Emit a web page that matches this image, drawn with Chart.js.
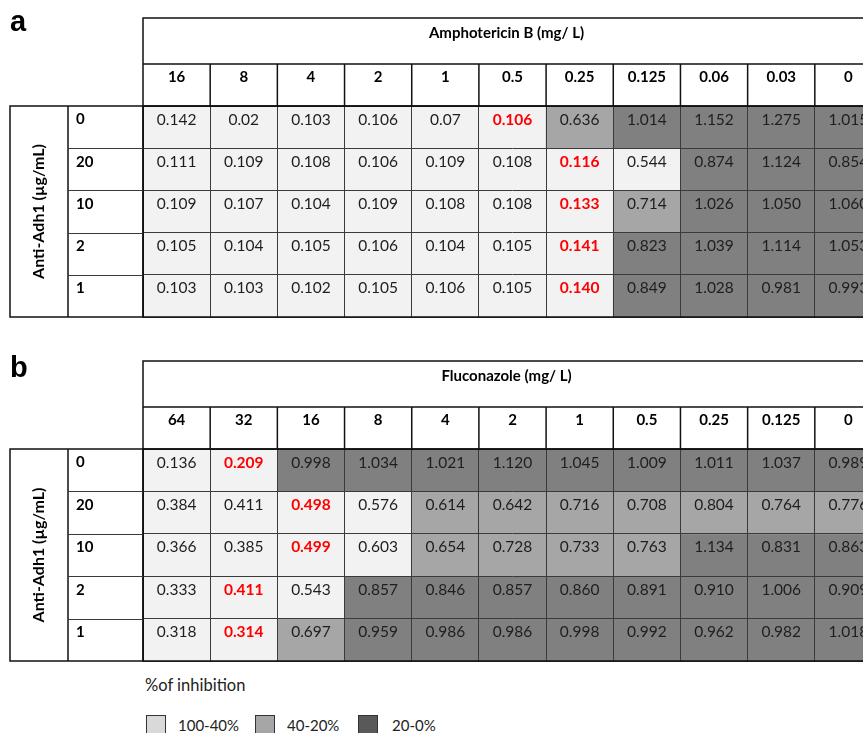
<!DOCTYPE html>
<html>
<head>
<meta charset="utf-8">
<title>Checkerboard: Anti-Adh1 with Amphotericin B and Fluconazole</title>
<script src="https://cdn.jsdelivr.net/npm/chart.js@4.4.1/dist/chart.umd.min.js"></script>
<style>
  html, body { margin: 0; padding: 0; background: #fff; width: 863px; height: 733px; overflow: hidden; }
  canvas { position: absolute; left: 0; }
  #panelA { top: 0; }
  #panelB { top: 335px; }
  #legend { position: absolute; left: 0; top: 0; font-family: Lato, "Open Sans", sans-serif; color: #222; }
  #legend .caption { position: absolute; left: 145px; top: 675px; font-size: 16.5px; white-space: nowrap; }
  #legend .key { position: absolute; top: 715px; width: 20px; height: 20px; border: 1px solid #333; box-sizing: border-box; }
  #legend .txt { position: absolute; top: 715px; font-size: 15px; line-height: 20px; white-space: nowrap; }
</style>
</head>
<body>
<canvas id="panelA" width="882" height="335"></canvas>
<canvas id="panelB" width="882" height="335"></canvas>
<div id="legend"></div>
<script>
// Anti-Adh1 concentrations (µg/mL), one per table row
const rowLabels = ['0', '20', '10', '2', '1'];

// Amphotericin B concentrations (mg/L)
const amphoLabels = ['16', '8', '4', '2', '1', '0.5', '0.25', '0.125', '0.06', '0.03', '0'];
// OD readings per row
const amphoOD = [
  ['0.142', '0.02',  '0.103', '0.106', '0.07',  '0.106', '0.636', '1.014', '1.152', '1.275', '1.015'],
  ['0.111', '0.109', '0.108', '0.106', '0.109', '0.108', '0.116', '0.544', '0.874', '1.124', '0.854'],
  ['0.109', '0.107', '0.104', '0.109', '0.108', '0.108', '0.133', '0.714', '1.026', '1.050', '1.060'],
  ['0.105', '0.104', '0.105', '0.106', '0.104', '0.105', '0.141', '0.823', '1.039', '1.114', '1.053'],
  ['0.103', '0.103', '0.102', '0.105', '0.106', '0.105', '0.140', '0.849', '1.028', '0.981', '0.993']
];
// inhibition band per cell: 0 = 100-40%, 1 = 40-20%, 2 = 20-0%
const amphoBand = [
  [0, 0, 0, 0, 0, 0, 1, 2, 2, 2, 2],
  [0, 0, 0, 0, 0, 0, 0, 0, 2, 2, 2],
  [0, 0, 0, 0, 0, 0, 0, 1, 2, 2, 2],
  [0, 0, 0, 0, 0, 0, 0, 2, 2, 2, 2],
  [0, 0, 0, 0, 0, 0, 0, 2, 2, 2, 2]
];
// column index of the MIC in each row
const amphoMIC = [5, 6, 6, 6, 6];

// Fluconazole concentrations (mg/L)
const flucoLabels = ['64', '32', '16', '8', '4', '2', '1', '0.5', '0.25', '0.125', '0'];
const flucoOD = [
  ['0.136', '0.209', '0.998', '1.034', '1.021', '1.120', '1.045', '1.009', '1.011', '1.037', '0.989'],
  ['0.384', '0.411', '0.498', '0.576', '0.614', '0.642', '0.716', '0.708', '0.804', '0.764', '0.776'],
  ['0.366', '0.385', '0.499', '0.603', '0.654', '0.728', '0.733', '0.763', '1.134', '0.831', '0.863'],
  ['0.333', '0.411', '0.543', '0.857', '0.846', '0.857', '0.860', '0.891', '0.910', '1.006', '0.909'],
  ['0.318', '0.314', '0.697', '0.959', '0.986', '0.986', '0.998', '0.992', '0.962', '0.982', '1.018']
];
const flucoBand = [
  [0, 0, 2, 2, 2, 2, 2, 2, 2, 2, 2],
  [0, 0, 0, 0, 1, 1, 1, 1, 1, 1, 1],
  [0, 0, 0, 0, 1, 1, 1, 1, 2, 2, 2],
  [0, 0, 0, 2, 2, 2, 2, 2, 2, 2, 2],
  [0, 0, 1, 2, 2, 2, 2, 2, 2, 2, 2]
];
const flucoMIC = [1, 2, 2, 1, 1];

// legend
const bandNames = ['100-40%', '40-20%', '20-0%'];
const legendCaption = '%of inhibition';

// styling
const cellFill = ['#f2f2f2', '#a6a6a6', '#808080'];
const keyFill = ['#d9d9d9', '#a6a6a6', '#595959'];
const FONT = 'Lato, "Open Sans", sans-serif';
const LINE = '#3a3a3a';
const EDGE = '#111';

function buildPanel(canvasId, p) {
  const datasets = p.od.map((row, r) => ({
    label: rowLabels[r],
    data: row.map(() => [r, r + 1]),
    backgroundColor: ctx => cellFill[p.band[r][ctx.dataIndex]],
    grouped: false,
    barPercentage: 1,
    categoryPercentage: 1,
    borderWidth: 0,
    borderSkipped: false
  }));

  const tablePlugin = {
    id: 'tableFrame',
    afterDraw(chart) {
      const { ctx, chartArea: a, scales: { x, y } } = chart;
      const n = p.cols.length;
      const colW = x.getPixelForValue(1) - x.getPixelForValue(0);
      const edgeX = i => x.getPixelForValue(i) - colW / 2;
      const hTop = a.top - p.titleH - p.colH;
      const hMid = a.top - p.colH;

      ctx.save();

      // cell readings
      ctx.textAlign = 'center';
      ctx.textBaseline = 'middle';
      p.od.forEach((row, r) => {
        const meta = chart.getDatasetMeta(r);
        row.forEach((txt, j) => {
          const el = meta.data[j];
          const top = Math.min(el.y, el.base);
          const mic = p.mic[r] === j;
          ctx.font = (mic ? 'bold ' : '') + '15.5px ' + FONT;
          ctx.fillStyle = mic ? '#ff0000' : '#1e1e1e';
          ctx.fillText(txt, el.x, top + 13.5);
        });
      });

      // header block: drug title row + concentration row
      ctx.strokeStyle = EDGE;
      ctx.lineWidth = 1.5;
      ctx.strokeRect(a.left, hTop, a.right - a.left, p.titleH + p.colH);
      ctx.beginPath();
      ctx.moveTo(a.left, hMid); ctx.lineTo(a.right, hMid);
      for (let i = 1; i <= n; i++) {
        ctx.moveTo(edgeX(i), hMid); ctx.lineTo(edgeX(i), a.top);
      }
      ctx.stroke();

      ctx.fillStyle = '#000';
      ctx.font = 'bold 15px ' + FONT;
      ctx.fillText(p.title, (a.left + a.right) / 2 - 6, hTop + 15.5);
      p.cols.forEach((c, i) => {
        ctx.fillText(c, x.getPixelForValue(i), hMid + 13.5);
      });

      // outer frame of the data block
      ctx.strokeRect(a.left, a.top, a.right - a.left, a.bottom - a.top);

      // left block: axis title column + row label column
      const labX = a.left - 75;
      const titX = a.left - 133;
      ctx.strokeRect(titX, a.top, a.left - titX, a.bottom - a.top);
      ctx.beginPath();
      ctx.moveTo(labX, a.top); ctx.lineTo(labX, a.bottom);
      ctx.stroke();
      ctx.lineWidth = 1;
      ctx.strokeStyle = LINE;
      ctx.beginPath();
      for (let r = 1; r < rowLabels.length; r++) {
        const yy = Math.round(y.getPixelForValue(r)) + 0.5;
        ctx.moveTo(labX, yy); ctx.lineTo(a.left, yy);
      }
      ctx.stroke();

      ctx.fillStyle = '#000';
      ctx.font = 'bold 15px ' + FONT;
      ctx.textAlign = 'left';
      rowLabels.forEach((lab, r) => {
        ctx.fillText(lab, labX + 8, y.getPixelForValue(r) + 13.5);
      });

      ctx.save();
      ctx.translate((titX + labX) / 2, (a.top + a.bottom) / 2);
      ctx.rotate(-Math.PI / 2);
      ctx.textAlign = 'center';
      ctx.font = 'bold 16px ' + FONT;
      ctx.fillText('Anti-Adh1 (\u00b5g/mL)', 0, 0);
      ctx.restore();

      // panel letter
      ctx.textAlign = 'left';
      ctx.textBaseline = 'alphabetic';
      ctx.font = 'bold 29px "Liberation Sans", Arial, sans-serif';
      ctx.fillText(p.letter, 10, p.letterY);

      ctx.restore();
    }
  };

  return new Chart(document.getElementById(canvasId), {
    type: 'bar',
    data: { labels: p.cols, datasets },
    options: {
      responsive: false,
      animation: false,
      devicePixelRatio: 1,
      layout: { padding: { left: 143, right: 0, top: p.padTop, bottom: p.padBottom } },
      plugins: { legend: { display: false }, tooltip: { enabled: false } },
      scales: {
        x: {
          type: 'category',
          offset: true,
          grid: { offset: true, color: LINE, lineWidth: 1, drawTicks: false, z: 1 },
          border: { display: false },
          ticks: { display: false }
        },
        y: {
          type: 'linear',
          min: 0,
          max: rowLabels.length,
          reverse: true,
          grid: { color: LINE, lineWidth: 1, drawTicks: false, z: 1 },
          border: { display: false },
          ticks: { display: false, stepSize: 1 }
        }
      }
    },
    plugins: [tablePlugin]
  });
}

buildPanel('panelA', {
  letter: 'a', letterY: 31,
  title: 'Amphotericin B (mg/ L)',
  cols: amphoLabels, od: amphoOD, band: amphoBand, mic: amphoMIC,
  titleH: 46, colH: 42, padTop: 106, padBottom: 18
});

buildPanel('panelB', {
  letter: 'b', letterY: 42,
  title: 'Fluconazole (mg/ L)',
  cols: flucoLabels, od: flucoOD, band: flucoBand, mic: flucoMIC,
  titleH: 46, colH: 42, padTop: 114, padBottom: 9
});

// legend for the inhibition bands
(function buildLegend() {
  const box = document.getElementById('legend');
  const cap = document.createElement('div');
  cap.className = 'caption';
  cap.textContent = legendCaption;
  box.appendChild(cap);
  const keyLeft = [146, 255, 358];
  const txtLeft = [178, 287, 392];
  bandNames.forEach((name, i) => {
    const k = document.createElement('div');
    k.className = 'key';
    k.style.left = keyLeft[i] + 'px';
    k.style.background = keyFill[i];
    box.appendChild(k);
    const t = document.createElement('div');
    t.className = 'txt';
    t.style.left = txtLeft[i] + 'px';
    t.textContent = name;
    box.appendChild(t);
  });
})();
</script>
</body>
</html>
